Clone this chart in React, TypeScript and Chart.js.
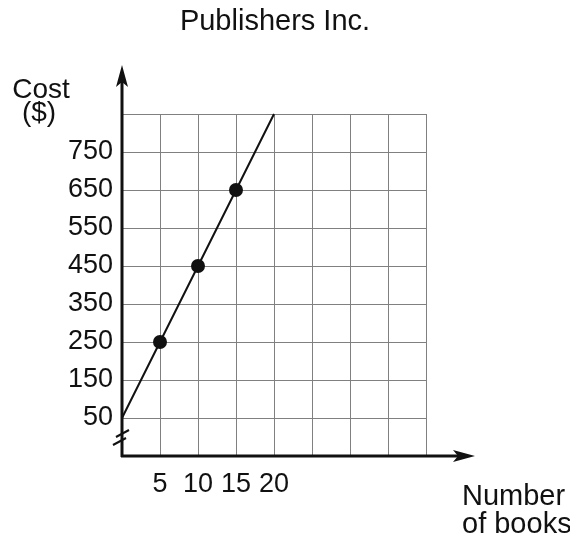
import React, { useEffect, useRef } from "react";
import { Chart, registerables } from "chart.js";

Chart.register(...registerables);

// ---- data ----
const books = [0, 5, 10, 15, 20];
const cost = [50, 250, 450, 650, 850];
const markedBooks = [5, 10, 15];

const xGridValues = [0, 5, 10, 15, 20, 25, 30, 35, 40];
const xTickLabels = [5, 10, 15, 20];
const yGridValues = [-50, 50, 150, 250, 350, 450, 550, 650, 750, 850];
const yTickLabels = [50, 150, 250, 350, 450, 550, 650, 750];

const titleText = "Publishers Inc.";
const yTitleLines = ["Cost", "($)"];
const xTitleLines = ["Number", "of books"];

const FONT = "'Liberation Sans', Arial, Helvetica, sans-serif";

const decorPlugin = {
  id: "decor",
  afterDraw(chart: any) {
    const ctx = chart.ctx;
    const area = chart.chartArea;
    const xs = chart.scales.x;
    const ys = chart.scales.y;
    const x0 = xs.getPixelForValue(0);
    const y0 = ys.getPixelForValue(-50);
    ctx.save();
    ctx.fillStyle = "#111";
    ctx.strokeStyle = "#111";

    // y axis
    const yTip = area.top - 49;
    ctx.lineWidth = 3;
    ctx.beginPath();
    ctx.moveTo(x0, y0 + 1);
    ctx.lineTo(x0, yTip + 12);
    ctx.stroke();
    ctx.beginPath();
    ctx.moveTo(x0, yTip);
    ctx.lineTo(x0 + 6, yTip + 22);
    ctx.lineTo(x0, yTip + 17);
    ctx.lineTo(x0 - 6, yTip + 22);
    ctx.closePath();
    ctx.fill();

    // x axis
    const xTip = area.right + 49;
    ctx.beginPath();
    ctx.moveTo(x0 - 1, y0);
    ctx.lineTo(xTip - 12, y0);
    ctx.stroke();
    ctx.beginPath();
    ctx.moveTo(xTip, y0);
    ctx.lineTo(xTip - 22, y0 - 6);
    ctx.lineTo(xTip - 17, y0);
    ctx.lineTo(xTip - 22, y0 + 6);
    ctx.closePath();
    ctx.fill();

    // axis break marks
    ctx.lineWidth = 2;
    const b1 = y0 - 23;
    const b2 = y0 - 15;
    [b1, b2].forEach((yy, i) => {
      const dx = i === 0 ? 0 : -3;
      ctx.beginPath();
      ctx.moveTo(x0 - 6 + dx, yy + 4);
      ctx.lineTo(x0 + 7 + dx, yy - 3);
      ctx.stroke();
    });

    // texts
    ctx.textBaseline = "alphabetic";
    ctx.textAlign = "center";
    ctx.font = `29px ${FONT}`;
    ctx.fillText(titleText, 275, 30);
    ctx.font = `28px ${FONT}`;
    ctx.fillText(yTitleLines[0], 41, 98);
    ctx.fillText(yTitleLines[1], 39, 121);
    ctx.textAlign = "left";
    ctx.font = `29px ${FONT}`;
    ctx.fillText(xTitleLines[0], 462, 505);
    ctx.fillText(xTitleLines[1], 462, 533);
    ctx.restore();
  },
};

export default function App() {
  const ref = useRef<HTMLCanvasElement>(null);
  useEffect(() => {
    if (!ref.current) return;
    const chart = new Chart(ref.current, {
      type: "line",
      data: {
        datasets: [
          {
            data: books.map((b, i) => ({ x: b, y: cost[i] })),
            borderColor: "#111",
            borderWidth: 2,
            pointBackgroundColor: "#111",
            pointBorderColor: "#111",
            pointRadius: books.map((b) => (markedBooks.includes(b) ? 6 : 0)),
            pointHoverRadius: books.map((b) => (markedBooks.includes(b) ? 6 : 0)),
            tension: 0,
            clip: false as any,
          },
        ],
      },
      options: {
        animation: false,
        responsive: true,
        maintainAspectRatio: false,
        layout: { padding: { left: 0, right: 144, top: 114, bottom: 0 } },
        plugins: {
          legend: { display: false },
          title: { display: false },
          tooltip: { enabled: false },
        },
        scales: {
          x: {
            type: "linear",
            min: 0,
            max: 40,
            afterBuildTicks: (s: any) => {
              s.ticks = xGridValues.map((v) => ({ value: v }));
            },
            afterFit: (s: any) => {
              s.height = 88;
            },
            grid: { color: "#808080", lineWidth: 1, drawTicks: false },
            border: { display: false },
            ticks: {
              autoSkip: false,
              maxRotation: 0,
              padding: 12,
              color: "#111",
              font: { family: FONT, size: 27 },
              callback: (v: any) => (xTickLabels.includes(Number(v)) ? String(v) : ""),
            },
          },
          y: {
            type: "linear",
            min: -50,
            max: 850,
            afterBuildTicks: (s: any) => {
              s.ticks = yGridValues.map((v) => ({ value: v }));
            },
            afterFit: (s: any) => {
              s.width = 122;
            },
            grid: { color: "#808080", lineWidth: 1, drawTicks: false },
            border: { display: false },
            ticks: {
              autoSkip: false,
              padding: 9,
              color: "#111",
              font: { family: FONT, size: 27 },
              callback: (v: any) => (yTickLabels.includes(Number(v)) ? String(v) : ""),
            },
          },
        },
      },
      plugins: [decorPlugin],
    });
    return () => chart.destroy();
  }, []);
  return (
    <div style={{ position: "absolute", left: 0, top: 0, width: 570, height: 544, background: "#fff" }}>
      <canvas ref={ref} />
    </div>
  );
}
